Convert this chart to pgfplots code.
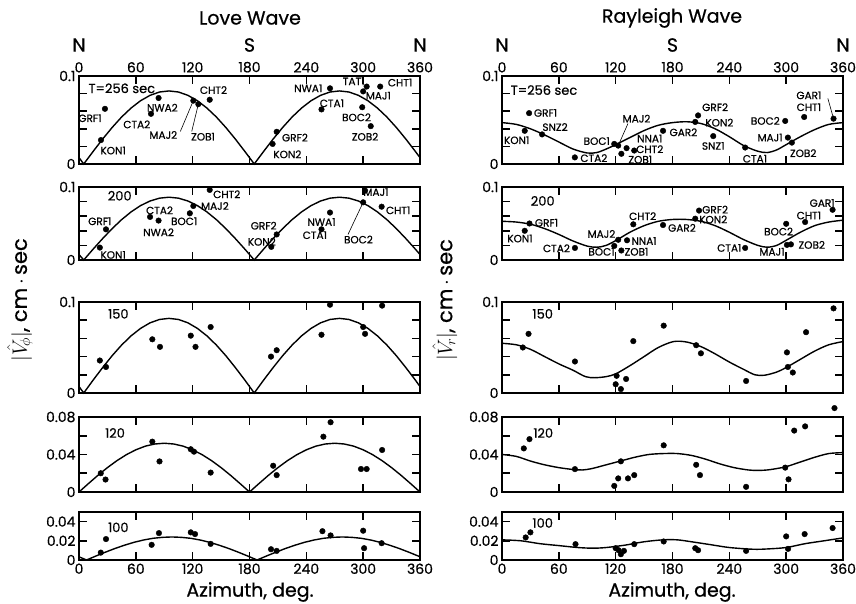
\documentclass[border=0pt]{standalone}
\usepackage{fontspec}
\setmainfont{Poppins}[FakeBold=0.6]
\usepackage{pgfplots}
\pgfplotsset{compat=1.18}

\newcommand\ttl{\fontsize{19}{19}\selectfont}
\newcommand\ylb{\fontsize{21}{21}\selectfont}
\newcommand\tck{\fontsize{14}{14}\selectfont}
\newcommand\pnl{\fontsize{13}{13}\selectfont}
\newcommand\lbl{\fontsize{10.5}{10.5}\selectfont}
\newcommand{\lab}[3]{\node[font=\lbl,inner sep=0pt] at (axis cs:#1,#2) {#3};}
\def\yfr{0.2,0.4,0.6,0.8}

\pgfplotsset{
  panel/.style={
    scale only axis, width=341pt,
    xmin=0, xmax=360, ymin=0,
    xtick={0,60,120,180,240,300,360}, xticklabels={},
    yticklabel pos=left,
    scaled ticks=false,
    tick align=inside, major tick length=8pt,
    axis line style={line width=1.3pt},
    every major tick/.append style={draw=black, line width=1.6pt},
    tick label style={font=\tck},
    clip=false, anchor=south west,
    extra description/.code={
      \foreach \tkx in {0.16667,0.33333,0.5,0.66667,0.83333} {
        \draw[draw=black,line width=1.6pt] (axis description cs:\tkx,0) -- ++(0,8pt);
        \draw[draw=black,line width=1.6pt] (axis description cs:\tkx,1) -- ++(0,-8pt);
      }
      \foreach \tky in \yfr {
        \draw[draw=black,line width=1.6pt] (axis description cs:0,\tky) -- ++(8pt,0);
        \draw[draw=black,line width=1.6pt] (axis description cs:1,\tky) -- ++(-8pt,0);
      }
    },
  },
  tall/.style={ymax=0.1, ytick={0,0.02,0.04,0.06,0.08,0.1}, yticklabels={0,,,,,0.1}, /utils/exec={\def\yfr{0.2,0.4,0.6,0.8}}},
  mid/.style={ymax=0.08, ytick={0,0.02,0.04,0.06,0.08}, yticklabels={0,,0.04,,0.08}, /utils/exec={\def\yfr{0.25,0.5,0.75}}},
  low/.style={ymax=0.05, ytick={0,0.02,0.04}, yticklabels={0,0.02,0.04}, /utils/exec={\def\yfr{0.4,0.8}}},
  toplab/.style={xticklabel pos=upper, xticklabels={0,60,120,180,240,300,360}},
  botlab/.style={xticklabel pos=lower, xticklabels={0,60,120,180,240,300,360}},
  dots/.style={only marks, mark=*, mark size=2.8pt, black},
  fit/.style={black, line width=1.4pt},
}

\begin{document}
\begin{tikzpicture}[x=1pt,y=1pt]
\useasboundingbox (0,0) rectangle (856,604);
\node[font=\ttl] at (250,586) {Love Wave};
\node[font=\ttl] at (672,586) {Rayleigh Wave};
\foreach \px/\nm in {79/N,249.5/S,420/N,502/N,672.5/S,843/N} \node[font=\ttl] at (\px,559) {\nm};
\node[font=\ttl] at (250,12) {Azimuth, deg.};
\node[font=\ttl] at (672,12) {Azimuth, deg.};
\node[font=\ylb,rotate=90] at (20,304) {$|\hat{V}_{\!\phi}|$, cm\,$\cdot$\,sec};
\node[font=\ylb,rotate=90] at (445,304) {$|\hat{V}_{\!r}|$, cm\,$\cdot$\,sec};

% ---------------- Love wave ----------------
\begin{axis}[panel, tall, toplab, at={(79pt,440pt)}, height=88pt]
\addplot[fit] coordinates {(0,.0072)(5,0)(15,.0144)(25,.0284)(35,.0415)(45,.0534)(55,.0636)(65,.0719)(75,.078)(85,.0818)(95,.083)(105,.0818)(115,.078)(125,.0719)(135,.0636)(145,.0534)(155,.0415)(165,.0284)(175,.0144)(185,0)(195,.0144)(205,.0284)(215,.0415)(225,.0534)(235,.0636)(245,.0719)(255,.078)(265,.0818)(275,.083)(285,.0818)(295,.078)(305,.0719)(315,.0636)(325,.0534)(335,.0415)(345,.0284)(355,.0144)(360,.0072)};
\addplot[dots] coordinates {(27.4,0.0627)(23.2,0.0272)(76,0.057)(84,0.075)(120.7,0.072)(126,0.068)(138,0.073)(208.7,0.0366)(204.4,0.0228)(265,0.086)(256,0.062)(303.7,0.088)(300,0.0825)(318,0.088)(299,0.0645)(308,0.043)};
\node[font=\pnl,anchor=west,inner sep=0pt] at (axis cs:9.9,0.086) {T=256 sec};
\lab{11.6}{0.052}{GRF1}\lab{36}{0.0153}{KON1}\lab{61}{0.045}{CTA2}\lab{88}{0.064}{NWA2}
\lab{89}{0.033}{MAJ2}\lab{131}{0.031}{ZOB1}\lab{142}{0.084}{CHT2}
\lab{242}{0.086}{NWA1}\lab{267}{0.069}{CTA1}\lab{290}{0.094}{TAT1}\lab{316}{0.0776}{MAJ1}
\lab{339}{0.0925}{CHT1}\lab{293}{0.053}{BOC2}\lab{302}{0.031}{ZOB2}\lab{228}{0.030}{GRF2}\lab{220}{0.011}{KON2}
\draw[line width=0.6pt] (axis cs:107,0.037) -- (axis cs:120.7,0.072);
\draw[line width=0.6pt] (axis cs:119,0.037) -- (axis cs:126,0.068);
\end{axis}

\begin{axis}[panel, tall, at={(79pt,344pt)}, height=73pt]
\addplot[fit] coordinates {(0,.0075)(5,0)(15,.0150)(25,.0294)(35,.043)(45,.0553)(55,.0659)(65,.0745)(75,.0808)(85,.0847)(95,.086)(105,.0847)(115,.0808)(125,.0745)(135,.0659)(145,.0553)(155,.043)(165,.0294)(175,.0150)(185,0)(195,.0150)(205,.0294)(215,.043)(225,.0553)(235,.0659)(245,.0745)(255,.0808)(265,.0847)(275,.086)(285,.0847)(295,.0808)(305,.0745)(315,.0659)(325,.0553)(335,.043)(345,.0294)(355,.0150)(360,.0075)};
\addplot[dots] coordinates {(28.5,0.042)(22,0.017)(75,0.059)(84,0.054)(117,0.064)(120.7,0.074)(138,0.096)(208.7,0.035)(203,0.018)(265,0.065)(256,0.042)(302,0.095)(300,0.079)(319.5,0.073)};
\node[font=\pnl] at (axis cs:43,0.088) {200};
\lab{22}{0.053}{GRF1}\lab{36}{0.007}{KON1}\lab{85}{0.068}{CTA2}\lab{84}{0.038}{NWA2}
\lab{111}{0.053}{BOC1}\lab{143.5}{0.074}{MAJ2}\lab{156}{0.09}{CHT2}\lab{195}{0.047}{GRF2}
\lab{193}{0.025}{KON2}\lab{256}{0.052}{NWA1}\lab{249}{0.034}{CTA1}\lab{313.5}{0.093}{MAJ1}
\lab{337}{0.068}{CHT1}\lab{295}{0.028}{BOC2}
\draw[line width=0.6pt] (axis cs:284,0.035) -- (axis cs:300,0.079);
\end{axis}

\begin{axis}[panel, tall, at={(79pt,211pt)}, height=91pt]
\addplot[fit] coordinates {(0,.0071)(5,0)(15,.0143)(25,.028)(35,.041)(45,.0527)(55,.0628)(65,.071)(75,.0771)(85,.0808)(95,.082)(105,.0808)(115,.0771)(125,.071)(135,.0628)(145,.0527)(155,.041)(165,.028)(175,.0143)(185,0)(195,.0143)(205,.028)(215,.041)(225,.0527)(235,.0628)(245,.071)(255,.0771)(265,.0808)(275,.082)(285,.0808)(295,.0771)(305,.071)(315,.0628)(325,.0527)(335,.041)(345,.028)(355,.0143)(360,.0071)};
\addplot[dots] coordinates {(22,0.0357)(28.5,0.0286)(77.4,0.059)(85.5,0.0507)(118,0.063)(123,0.0507)(139,0.0725)(202.7,0.040)(208.7,0.047)(256,0.064)(265,0.097)(300,0.0725)(302,0.065)(320,0.096)};
\node[font=\pnl] at (axis cs:41.5,0.087) {150};
\end{axis}

\begin{axis}[panel, mid, at={(79pt,112pt)}, height=75pt]
\addplot[fit] coordinates {(0,0)(10,.009)(20,.0178)(30,.026)(40,.0334)(50,.0398)(60,.045)(70,.0489)(80,.0512)(90,.052)(100,.0512)(110,.0489)(120,.045)(130,.0398)(140,.0334)(150,.026)(160,.0178)(170,.009)(180,0)(190,.009)(200,.0178)(210,.026)(220,.0334)(230,.0398)(240,.045)(250,.0489)(260,.0512)(270,.052)(280,.0512)(290,.0489)(300,.045)(310,.0398)(320,.0334)(330,.026)(340,.0178)(350,.009)(360,0)};
\addplot[dots] coordinates {(23,0.02)(28,0.0133)(77.4,0.0537)(85,0.0326)(118,0.0456)(121.4,0.043)(139,0.0207)(205,0.028)(208.7,0.018)(258,0.059)(265.6,0.0744)(297.7,0.0245)(303.7,0.0245)(320,0.0448)};
\node[font=\pnl] at (axis cs:38,0.063) {120};
\end{axis}

\begin{axis}[panel, low, botlab, at={(79pt,44pt)}, height=48pt]
\addplot[fit] coordinates {(0,.0033)(8,0)(18,.0042)(28,.0082)(38,.012)(48,.0154)(58,.0184)(68,.0208)(78,.0226)(88,.0236)(98,.024)(108,.0236)(118,.0226)(128,.0208)(138,.0184)(148,.0154)(158,.012)(168,.0082)(178,.0042)(188,0)(198,.0042)(208,.0082)(218,.012)(228,.0154)(238,.0184)(248,.0208)(258,.0226)(268,.0236)(278,.024)(288,.0236)(298,.0226)(308,.0208)(318,.0184)(328,.0154)(338,.012)(348,.0082)(358,.0042)(360,.0033)};
\addplot[dots] coordinates {(23,0.0077)(28.5,0.0218)(76.7,0.0158)(84.4,0.028)(118,0.0288)(122.5,0.027)(139,0.0168)(202.7,0.0112)(208.7,0.0095)(257,0.030)(265.6,0.0256)(300,0.0305)(301,0.0123)(319.5,0.0175)};
\node[font=\pnl] at (axis cs:41.5,0.034) {100};
\end{axis}

% ---------------- Rayleigh wave ----------------
\begin{axis}[panel, tall, toplab, at={(502pt,440pt)}, height=88pt]
\addplot[fit, smooth] coordinates {(0,.047)(15,.045)(30,.040)(45,.033)(60,.025)(75,.017)(90,.0125)(100,.013)(110,.017)(120,.022)(135,.030)(150,.038)(165,.044)(180,.047)(195,.048)(210,.046)(225,.040)(240,.031)(255,.021)(270,.0145)(280,.013)(290,.016)(300,.022)(315,.031)(330,.039)(345,.045)(360,.047)};
\addplot[dots] coordinates {(24,0.0377)(28.6,0.0578)(42.3,0.0336)(76.9,0.0075)(118.5,0.0228)(122.7,0.0209)(126,0.0116)(131.5,0.018)(139.6,0.0153)(170,0.0377)(207,0.0552)(204,0.0478)(223,0.0317)(256.7,0.0187)(299,0.0489)(301.8,0.030)(306,0.0243)(319,0.0534)(350,0.0515)};
\node[font=\pnl,anchor=west,inner sep=0pt] at (axis cs:9,0.084) {T=256 sec};
\lab{46}{0.058}{GRF1}\lab{56}{0.042}{SNZ2}\lab{15.5}{0.027}{KON1}\lab{97}{0.0067}{CTA2}
\lab{100}{0.026}{BOC1}\lab{142}{0.0515}{MAJ2}\lab{156}{0.029}{NNA1}\lab{156}{0.0168}{CHT2}
\lab{146}{0.005}{ZOB1}\lab{191.5}{0.036}{GAR2}\lab{225}{0.0645}{GRF2}\lab{229.5}{0.047}{KON2}
\lab{223}{0.0205}{SNZ1}\lab{267}{0.006}{CTA1}\lab{278}{0.049}{BOC2}\lab{283}{0.030}{MAJ1}
\lab{318}{0.0123}{ZOB2}\lab{324}{0.0645}{CHT1}\lab{324}{0.078}{GAR1}
\draw[line width=0.6pt] (axis cs:133,0.046) -- (axis cs:122.7,0.0209);
\draw[line width=0.6pt] (axis cs:344,0.0746) -- (axis cs:350,0.0515);
\end{axis}

\begin{axis}[panel, tall, at={(502pt,344pt)}, height=73pt]
\addplot[fit, smooth] coordinates {(0,.053)(15,.052)(30,.049)(45,.043)(60,.035)(75,.026)(90,.019)(100,.0175)(110,.020)(122,.028)(135,.038)(150,.047)(165,.053)(180,.0555)(195,.0555)(210,.053)(225,.047)(240,.038)(255,.028)(270,.020)(280,.0175)(290,.020)(300,.027)(315,.038)(330,.047)(345,.052)(360,.0545)};
\addplot[dots] coordinates {(29,0.050)(24,0.040)(77,0.0165)(122.7,0.0277)(118.5,0.0193)(126,0.013)(132,0.027)(138.6,0.0489)(170,0.0479)(208,0.0677)(204,0.0566)(256.7,0.0165)(300.8,0.0207)(305,0.0214)(300,0.0496)(320,0.052)(349,0.0688)};
\node[font=\pnl] at (axis cs:43,0.081) {200};
\lab{47}{0.051}{GRF1}\lab{19}{0.0294}{KON1}\lab{57.5}{0.016}{CTA2}\lab{105}{0.0357}{MAJ2}
\lab{105}{0.0113}{BOC1}\lab{150}{0.026}{NNA1}\lab{142}{0.0113}{ZOB1}\lab{148.5}{0.06}{CHT2}
\lab{190}{0.044}{GAR2}\lab{225}{0.069}{GRF2}\lab{223}{0.0555}{KON2}\lab{240}{0.0165}{CTA1}
\lab{285}{0.0113}{MAJ1}\lab{327}{0.0207}{ZOB2}\lab{292}{0.039}{BOC2}\lab{324}{0.061}{CHT1}
\lab{338}{0.078}{GAR1}
\end{axis}

\begin{axis}[panel, tall, at={(502pt,211pt)}, height=91pt]
\addplot[fit, smooth] coordinates {(0,.0546)(15,.053)(30,.048)(45,.040)(60,.032)(75,.025)(88,.018)(98,.0168)(110,.018)(120,.021)(135,.030)(150,.040)(165,.050)(181,.0565)(195,.056)(210,.051)(225,.043)(240,.034)(255,.026)(267,.020)(277,.0195)(290,.023)(300,.028)(315,.037)(330,.046)(345,.053)(360,.0565)};
\addplot[dots] coordinates {(22,0.050)(28,0.065)(77,0.0346)(120,0.0096)(121,0.0189)(125.5,0.0043)(131,0.0154)(138.6,0.057)(170.7,0.074)(205,0.0525)(210,0.0436)(257.7,0.0132)(300.8,0.0446)(301.8,0.0286)(307,0.0225)(321,0.0668)(350,0.093)};
\node[font=\pnl] at (axis cs:43,0.087) {150};
\end{axis}

\begin{axis}[panel, mid, at={(502pt,112pt)}, height=75pt]
\addplot[fit, smooth] coordinates {(0,.040)(15,.038)(30,.033)(45,.029)(60,.026)(75,.024)(85,.0235)(95,.025)(110,.029)(125,.033)(140,.037)(155,.040)(170,.041)(185,.041)(200,.039)(215,.035)(230,.030)(245,.026)(260,.0235)(270,.023)(280,.0235)(290,.025)(300,.027)(315,.032)(330,.037)(345,.041)(360,.042)};
\addplot[dots] coordinates {(23,0.0465)(29,0.0564)(77,0.0244)(118.5,0.0065)(122.7,0.0145)(125.5,0.0327)(133,0.0145)(139.6,0.018)(170.7,0.0498)(205,0.029)(209,0.018)(257.7,0.0055)(299,0.026)(302.5,0.0135)(308.5,0.0655)(320,0.070)(351,0.0895)};
\node[font=\pnl] at (axis cs:43.5,0.063) {120};
\end{axis}

\begin{axis}[panel, low, botlab, at={(502pt,44pt)}, height=48pt]
\addplot[fit, smooth] coordinates {(0,.021)(20,.020)(40,.017)(60,.015)(80,.013)(96,.0123)(110,.013)(130,.0155)(150,.019)(170,.021)(185,.021)(200,.019)(220,.016)(240,.013)(265,.0112)(280,.0115)(300,.013)(320,.017)(340,.020)(360,.023)};
\addplot[dots] coordinates {(25,0.0235)(30,0.0288)(77.6,0.0165)(120,0.0123)(123,0.0102)(125.5,0.006)(128.7,0.0095)(139.6,0.0165)(170.7,0.0193)(204,0.0123)(207,0.0102)(257.7,0.0095)(300,0.0246)(302,0.0116)(319.5,0.027)(349,0.0333)};
\node[font=\pnl] at (axis cs:43,0.0386) {100};
\end{axis}
\end{tikzpicture}
\end{document}
